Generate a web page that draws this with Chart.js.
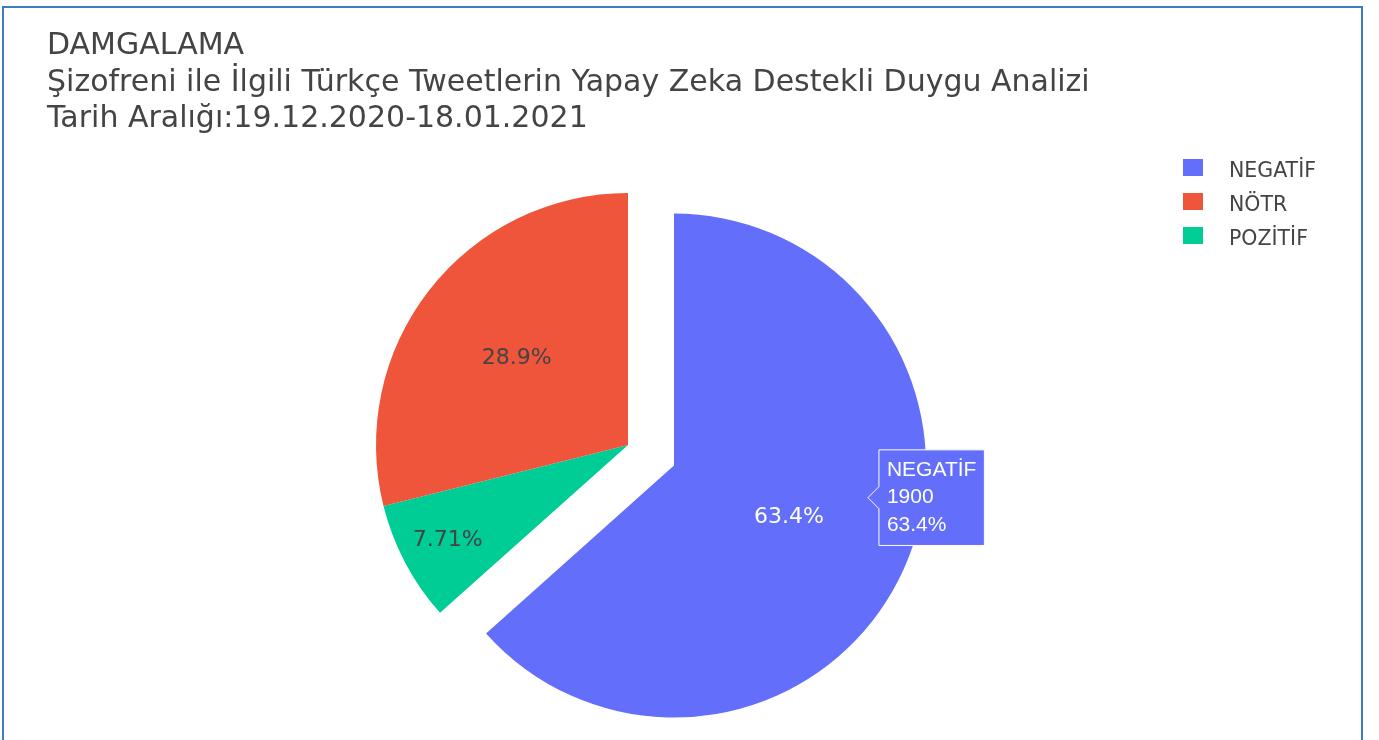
<!DOCTYPE html>
<html lang="tr">
<head>
<meta charset="utf-8">
<title>DAMGALAMA</title>
<script src="https://cdn.jsdelivr.net/npm/chart.js@4/dist/chart.umd.min.js"></script>
<style>
    body { margin: 0; background: #fff; }
    #sahne { position: relative; width: 1379px; height: 740px; overflow: hidden; background: #fff; }
    #grafik { position: absolute; left: 0; top: 0; }
    #cerceve {
        position: absolute; left: 2px; top: 6px; width: 1357px; height: 760px;
        border: 2px solid #3a7dc4; border-bottom: none; pointer-events: none;
    }
    #baslik {
        position: absolute; left: 47px; top: 26px;
        font-family: "DejaVu Sans", Verdana, sans-serif; font-size: 30px; line-height: 36.5px; color: #444;
        white-space: nowrap;
    }
    #lejant { position: absolute; left: 1183px; top: 153px; font-family: "DejaVu Sans", Verdana, sans-serif; font-size: 20.5px; color: #444; }
    .satir { position: relative; height: 34px; line-height: 34px; padding-left: 46px; white-space: nowrap; }
    .kutu { position: absolute; left: 0; top: 6px; width: 20px; height: 17px; }
</style>
</head>
<body>
<div id="sahne">
    <canvas id="grafik" width="1379" height="740"></canvas>
    <div id="baslik"></div>
    <div id="lejant"></div>
    <div id="cerceve"></div>
</div>
<script>
// Veriler (legend sırasıyla)
const kategoriler = ['NEGATİF', 'NÖTR', 'POZİTİF'];
const degerler = [1900, 866, 231];
const renkler = ['#636efa', '#ef553b', '#00cc96'];
// Dilimlerin saat yönünde çizim sırası
const cizimSirasi = [0, 2, 1];
const baslikSatirlari = [
    'DAMGALAMA',
    'Şizofreni ile İlgili Türkçe Tweetlerin Yapay Zeka Destekli Duygu Analizi',
    'Tarih Aralığı:19.12.2020-18.01.2021'
];

// Görünüm ayarları
const yaricap = 252;
const cekme = [0.2, 0, 0];            // dilimin dışarı çekilme oranı
const etiketYaricap = [0.5, 0.56, 0.81];
const etiketRenk = ['#fff', '#444', '#444'];
const ipucuAci = -0.257;
const ipucuYaricap = 0.78;

const toplam = degerler.reduce((a, b) => a + b, 0);
function yuzde(v) {
    return (v / toplam * 100).toPrecision(3) + '%';
}

// Başlık ve lejant
document.getElementById('baslik').innerHTML = baslikSatirlari.map(s => `<div>${s}</div>`).join('');
document.getElementById('lejant').innerHTML = kategoriler.map((k, i) =>
    `<div class="satir"><span class="kutu" style="background:${renkler[i]}"></span>${k}</div>`
).join('');

// Çizim sırasına göre diziler
const etiketler = cizimSirasi.map(i => kategoriler[i]);
const veri = cizimSirasi.map(i => degerler[i]);
const dilimRenk = cizimSirasi.map(i => renkler[i]);

// Dilimi dışarı çeken eklenti
const cekmeEklentisi = {
    id: 'cekme',
    afterDatasetUpdate(chart, args) {
        args.meta.data.forEach((arc, j) => {
            const p = cekme[cizimSirasi[j]];
            if (!p) return;
            const orta = (arc.startAngle + arc.endAngle) / 2;
            arc.x += Math.cos(orta) * p * arc.outerRadius;
            arc.y += Math.sin(orta) * p * arc.outerRadius;
        });
    }
};

// Dilim içi yüzde etiketleri
const yuzdeEklentisi = {
    id: 'yuzdeler',
    afterDatasetsDraw(chart) {
        const ctx = chart.ctx;
        const meta = chart.getDatasetMeta(0);
        ctx.save();
        ctx.font = '22px "DejaVu Sans", Verdana, sans-serif';
        ctx.textAlign = 'center';
        ctx.textBaseline = 'middle';
        meta.data.forEach((arc, j) => {
            const i = cizimSirasi[j];
            const orta = (arc.startAngle + arc.endAngle) / 2;
            const r = etiketYaricap[i] * arc.outerRadius;
            ctx.fillStyle = etiketRenk[i];
            ctx.fillText(yuzde(degerler[i]), arc.x + Math.cos(orta) * r, arc.y + Math.sin(orta) * r);
        });
        ctx.restore();
    }
};

const ipucu = Chart.Tooltip || Chart.registry.getPlugin('tooltip');
ipucu.positioners.dilim = function(items) {
    if (!items.length) return false;
    const arc = items[0].element;
    const a = (arc.startAngle + arc.endAngle) / 2 + ipucuAci;
    return {
        x: arc.x + Math.cos(a) * ipucuYaricap * arc.outerRadius,
        y: arc.y + Math.sin(a) * ipucuYaricap * arc.outerRadius
    };
};

const grafik = new Chart(document.getElementById('grafik'), {
    type: 'pie',
    data: {
        labels: etiketler,
        datasets: [{
            data: veri,
            backgroundColor: dilimRenk,
            hoverBackgroundColor: dilimRenk,
            borderColor: '#fff',
            borderWidth: 0,
            hoverOffset: 0
        }]
    },
    options: {
        responsive: false,
        animation: false,
        events: [],
        radius: yaricap,
        layout: { padding: { left: 0, right: 123, top: 150, bottom: 0 } },
        plugins: {
            legend: { display: false },
            title: { display: false },
            tooltip: {
                position: 'dilim',
                xAlign: 'left',
                yAlign: 'center',
                backgroundColor: '#636efa',
                borderColor: '#fff',
                borderWidth: 1,
                cornerRadius: 0,
                caretSize: 11,
                caretPadding: 0,
                padding: 8,
                displayColors: false,
                titleColor: '#fff',
                bodyColor: '#fff',
                titleFont: { family: '"Liberation Sans", Arial, sans-serif', size: 21, weight: 'normal', lineHeight: 1.2 },
                bodyFont: { family: '"Liberation Sans", Arial, sans-serif', size: 21, lineHeight: 1.2 },
                titleMarginBottom: 2,
                bodySpacing: 2,
                callbacks: {
                    title: items => items[0].label,
                    label: item => [String(item.raw), yuzde(item.raw)]
                }
            }
        }
    },
    plugins: [cekmeEklentisi, yuzdeEklentisi]
});

// NEGATİF diliminin ipucunu göster
grafik.tooltip.setActiveElements([{ datasetIndex: 0, index: 0 }], { x: 0, y: 0 });
grafik.update();
</script>
</body>
</html>
